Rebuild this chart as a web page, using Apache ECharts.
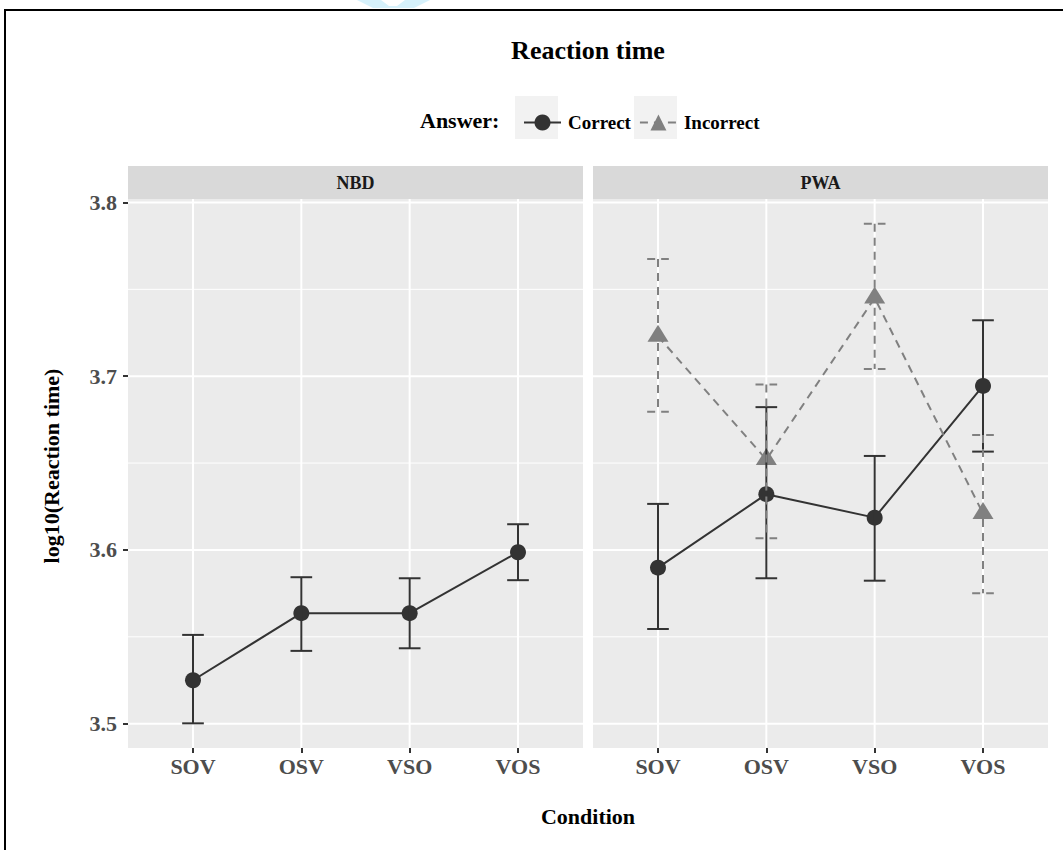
<!DOCTYPE html>
<html>
<head>
<meta charset="utf-8">
<script src="https://cdn.jsdelivr.net/npm/echarts@6/dist/echarts.min.js"></script>
<style>
html,body{margin:0;padding:0;background:#fff;}
#chart{width:1063px;height:850px;}
</style>
</head>
<body>
<div id="chart"></div>
<script>
// ---- data ----
const categories = ['SOV', 'OSV', 'VSO', 'VOS'];
const panels = ['NBD', 'PWA'];
const nbdCorrect     = [3.525, 3.5636, 3.5636, 3.5987];
const nbdCorrectLow  = [3.5002, 3.5419, 3.5434, 3.5826];
const nbdCorrectHigh = [3.5511, 3.5843, 3.5837, 3.6148];
const pwaCorrect     = [3.5898, 3.6321, 3.6186, 3.6944];
const pwaCorrectLow  = [3.5545, 3.5837, 3.5823, 3.6566];
const pwaCorrectHigh = [3.6265, 3.6822, 3.6541, 3.7322];
const pwaIncorrect     = [3.723, 3.652, 3.745, 3.621];
const pwaIncorrectLow  = [3.6795, 3.6067, 3.7042, 3.5751];
const pwaIncorrectHigh = [3.7675, 3.6952, 3.7877, 3.6662];
const yMajorTicks = [3.5, 3.6, 3.7, 3.8];
const yMinorTicks = [3.55, 3.65, 3.75];

// ---- helpers ----
const FONT = "'Liberation Serif', 'Times New Roman', serif";
const DARK = '#333333', GREY = '#808080';
const xIdx = categories.map((c, i) => i);
const pts = vals => vals.map((v, i) => [i, v]);
const bars = (lo, hi) => lo.map((v, i) => [i, v, hi[i]]);

function errorBar(color, dash) {
  return function (params, api) {
    const x = api.value(0), lo = api.value(1), hi = api.value(2);
    const t = api.coord([x, hi]), b = api.coord([x, lo]);
    const tl = api.coord([x - 0.1, hi]), tr = api.coord([x + 0.1, hi]);
    const bl = api.coord([x - 0.1, lo]), br = api.coord([x + 0.1, lo]);
    const st = { stroke: color, lineWidth: 2, lineDash: dash, fill: null };
    return { type: 'group', children: [
      { type: 'line', shape: { x1: t[0], y1: t[1], x2: b[0], y2: b[1] }, style: st },
      { type: 'line', shape: { x1: tl[0], y1: tl[1], x2: tr[0], y2: tr[1] }, style: st },
      { type: 'line', shape: { x1: bl[0], y1: bl[1], x2: br[0], y2: br[1] }, style: st }
    ]};
  };
}
function hGrid(width) {
  return function (params, api) {
    const cs = params.coordSys;
    const y = api.coord([0, api.value(1)])[1];
    return { type: 'line', shape: { x1: cs.x, y1: y, x2: cs.x + cs.width, y2: y },
      style: { stroke: '#ffffff', lineWidth: width } };
  };
}
function vGrid(params, api) {
  const cs = params.coordSys;
  const x = api.coord([api.value(0), 3.6])[0];
  return { type: 'line', shape: { x1: x, y1: cs.y, x2: x, y2: cs.y + cs.height },
    style: { stroke: '#ffffff', lineWidth: 2 } };
}

const chart = echarts.init(document.getElementById('chart'), null, { renderer: 'svg' });

const gridDefs = [
  { left: 128, top: 199, width: 455, height: 549 },
  { left: 593, top: 199, width: 455, height: 549 }
];

const xAxes = gridDefs.map((g, gi) => ({
  type: 'value', gridIndex: gi, min: -0.6, max: 3.6, position: 'bottom',
  axisLine: { show: false, onZero: false },
  splitLine: { show: false },
  axisTick: { show: true, customValues: xIdx, length: 5, lineStyle: { color: DARK, width: 2 } },
  axisLabel: { show: true, customValues: xIdx, margin: 7,
    formatter: v => categories[Math.round(v)] || '',
    fontFamily: FONT, fontWeight: 'bold', fontSize: 22, color: '#4d4d4d' }
}));
const yAxes = gridDefs.map((g, gi) => ({
  type: 'value', gridIndex: gi, min: 3.486, max: 3.802, position: 'left',
  axisLine: { show: false, onZero: false },
  splitLine: { show: false },
  axisTick: { show: gi === 0, customValues: yMajorTicks, length: 5, lineStyle: { color: DARK, width: 2 } },
  axisLabel: { show: gi === 0, customValues: yMajorTicks, margin: 11,
    formatter: v => v.toFixed(1),
    fontFamily: FONT, fontWeight: 'bold', fontSize: 22, color: '#4d4d4d' }
}));

const series = [];
// gridlines
[0, 1].forEach(gi => {
  series.push({ type: 'custom', name: 'gridMinor' + gi, xAxisIndex: gi, yAxisIndex: gi, z: 1, silent: true,
    data: yMinorTicks.map(v => [0, v]), encode: { x: 0, y: 1 }, renderItem: hGrid(1), animation: false });
  series.push({ type: 'custom', name: 'gridMajor' + gi, xAxisIndex: gi, yAxisIndex: gi, z: 1, silent: true,
    data: yMajorTicks.map(v => [0, v]), encode: { x: 0, y: 1 }, renderItem: hGrid(2), animation: false });
  series.push({ type: 'custom', name: 'gridX' + gi, xAxisIndex: gi, yAxisIndex: gi, z: 1, silent: true,
    data: xIdx.map(i => [i, 3.6]), encode: { x: 0, y: 1 }, renderItem: vGrid, animation: false });
});
// lines + points
series.push({ type: 'line', name: 'Correct', xAxisIndex: 0, yAxisIndex: 0, z: 2,
  data: pts(nbdCorrect), symbol: 'circle', symbolSize: 16, showSymbol: true,
  itemStyle: { color: DARK }, lineStyle: { color: DARK, width: 2 }, animation: false });
series.push({ type: 'line', name: 'Correct', xAxisIndex: 1, yAxisIndex: 1, z: 2,
  data: pts(pwaCorrect), symbol: 'circle', symbolSize: 16, showSymbol: true,
  itemStyle: { color: DARK }, lineStyle: { color: DARK, width: 2 }, animation: false });
series.push({ type: 'line', name: 'Incorrect', xAxisIndex: 1, yAxisIndex: 1, z: 2,
  data: pts(pwaIncorrect), symbol: 'triangle', symbolSize: [21, 17], symbolOffset: [0, -3], showSymbol: true,
  itemStyle: { color: GREY }, lineStyle: { color: GREY, width: 2, type: [8, 6] }, animation: false });
// error bars
series.push({ type: 'custom', name: 'Correct SE NBD', xAxisIndex: 0, yAxisIndex: 0, z: 3,
  data: bars(nbdCorrectLow, nbdCorrectHigh), encode: { x: 0, y: [1, 2] },
  renderItem: errorBar(DARK, null), animation: false });
series.push({ type: 'custom', name: 'Correct SE PWA', xAxisIndex: 1, yAxisIndex: 1, z: 3,
  data: bars(pwaCorrectLow, pwaCorrectHigh), encode: { x: 0, y: [1, 2] },
  renderItem: errorBar(DARK, null), animation: false });
series.push({ type: 'custom', name: 'Incorrect SE PWA', xAxisIndex: 1, yAxisIndex: 1, z: 4,
  data: bars(pwaIncorrectLow, pwaIncorrectHigh), encode: { x: 0, y: [1, 2] },
  renderItem: errorBar(GREY, [8, 6]), animation: false });

const graphics = [
  // watermark fragment (shape only)
  { type: 'polygon', z: 0, silent: true,
    shape: { points: [[357, 0], [430, 0], [414, 8], [373, 8]] }, style: { fill: '#d6f1fb' } },
  { type: 'polygon', z: 0, silent: true,
    shape: { points: [[381, 0], [405, 0], [397, 6], [389, 6]] }, style: { fill: '#ffffff' } },
  // frame
  { type: 'rect', shape: { x: 5, y: 10, width: 1100, height: 900 }, z: 10, silent: true,
    style: { fill: null, stroke: '#000000', lineWidth: 2 } },
  // title
  { type: 'text', x: 588, y: 50, z: 5,
    style: { text: 'Reaction time', font: 'bold 26px ' + FONT, fill: '#000', align: 'center', verticalAlign: 'middle' } },
  // legend title + key backgrounds
  { type: 'text', x: 420, y: 120, z: 5,
    style: { text: 'Answer:', font: 'bold 22px ' + FONT, fill: '#000', align: 'left', verticalAlign: 'middle' } },
  { type: 'rect', shape: { x: 515, y: 96, width: 43, height: 43 }, z: 0, style: { fill: '#f2f2f2' } },
  { type: 'rect', shape: { x: 634, y: 96, width: 43, height: 43 }, z: 0, style: { fill: '#f2f2f2' } },
  // axis titles
  { type: 'text', x: 588, y: 816, z: 5,
    style: { text: 'Condition', font: 'bold 22px ' + FONT, fill: '#000', align: 'center', verticalAlign: 'middle' } },
  { type: 'text', x: 51, y: 466, rotation: Math.PI / 2, z: 5,
    style: { text: 'log10(Reaction time)', font: 'bold 22px ' + FONT, fill: '#000', align: 'center', verticalAlign: 'middle' } }
];
// facet strips
gridDefs.forEach((g, gi) => {
  graphics.push({ type: 'rect', shape: { x: g.left, y: 166, width: g.width, height: 33 }, z: 0,
    style: { fill: '#d9d9d9' } });
  graphics.push({ type: 'text', x: g.left + g.width / 2, y: 183, z: 5,
    style: { text: panels[gi], font: 'bold 18px ' + FONT, fill: '#1a1a1a', align: 'center', verticalAlign: 'middle' } });
});

chart.setOption({
  animation: false,
  backgroundColor: '#ffffff',
  grid: gridDefs.map(g => Object.assign({ show: true, backgroundColor: '#ebebeb', borderWidth: 0, containLabel: false }, g)),
  xAxis: xAxes,
  yAxis: yAxes,
  legend: {
    data: ['Correct', 'Incorrect'],
    left: 518, top: 108, itemWidth: 37, itemHeight: 20, itemGap: 8,
    selectedMode: false,
    textStyle: { fontFamily: FONT, fontWeight: 'bold', fontSize: 19, color: '#000', padding: [0, 0, 0, 2] }
  },
  graphic: graphics,
  series: series
});
</script>
</body>
</html>
